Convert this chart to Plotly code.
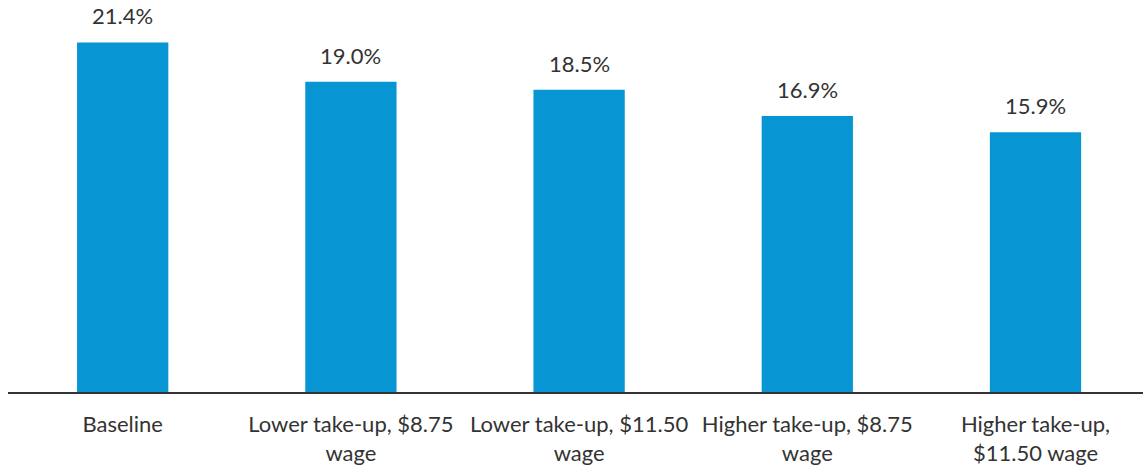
import plotly.graph_objects as go

# Scenario categories and the share values shown above each bar
categories = [
    "Baseline",
    "Lower take-up, $8.75<br>wage",
    "Lower take-up, $11.50<br>wage",
    "Higher take-up, $8.75<br>wage",
    "Higher take-up,<br>$11.50 wage",
]
values = [21.4, 19.0, 18.5, 16.9, 15.9]
labels = [f"{v:.1f}%" for v in values]

fig = go.Figure(
    go.Bar(
        x=categories,
        y=values,
        width=0.4,
        marker=dict(color="#0796d3", line=dict(width=0)),
        hovertemplate="%{y:.1f}%<extra></extra>",
    )
)

# Value labels sitting above each bar
for cat, val, lab in zip(categories, values, labels):
    fig.add_annotation(
        x=cat,
        y=val,
        text=lab,
        showarrow=False,
        yanchor="bottom",
        yshift=11,
        font=dict(family="Lato", size=22, color="#333333"),
    )

fig.update_layout(
    width=1143,
    height=465,
    margin=dict(l=8, r=0, t=0, b=73),
    paper_bgcolor="white",
    plot_bgcolor="white",
    showlegend=False,
    font=dict(family="Lato", size=22, color="#333333"),
)
fig.update_xaxes(
    range=[-0.5026, 4.471],
    showline=True,
    linecolor="#333333",
    linewidth=2,
    ticks="",
    ticklabelstandoff=12,
    showgrid=False,
    tickfont=dict(family="Lato", size=22, color="#333333"),
)
fig.update_yaxes(
    range=[0, 24],
    visible=False,
    showgrid=False,
    zeroline=False,
)

fig.write_html("out.html")
